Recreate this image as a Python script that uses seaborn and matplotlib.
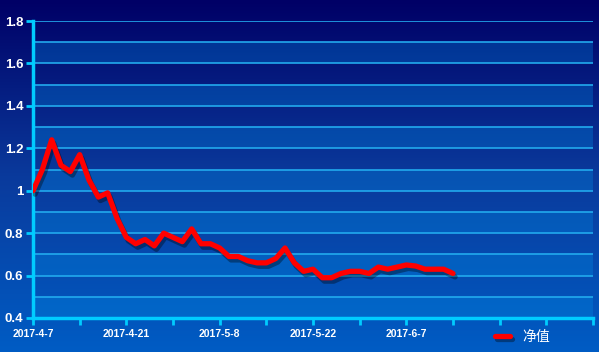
import seaborn as sns
import matplotlib.pyplot as plt
import matplotlib.patheffects as pe
from matplotlib.colors import LinearSegmentedColormap
import numpy as np
import pandas as pd

sns.set_style("ticks")
plt.rcParams['font.family'] = ['Liberation Sans', 'Noto Sans CJK SC', 'DejaVu Sans']

# trading days with a value
dates = ['2017-4-7', '2017-4-10', '2017-4-11', '2017-4-12', '2017-4-13', '2017-4-14',
         '2017-4-17', '2017-4-18', '2017-4-19', '2017-4-20', '2017-4-21',
         '2017-4-24', '2017-4-25', '2017-4-26', '2017-4-27', '2017-4-28',
         '2017-5-2', '2017-5-3', '2017-5-4', '2017-5-5', '2017-5-8',
         '2017-5-9', '2017-5-10', '2017-5-11', '2017-5-12', '2017-5-15',
         '2017-5-16', '2017-5-17', '2017-5-18', '2017-5-19', '2017-5-22',
         '2017-5-23', '2017-5-24', '2017-5-25', '2017-5-26', '2017-5-31',
         '2017-6-1', '2017-6-2', '2017-6-5', '2017-6-6', '2017-6-7',
         '2017-6-8', '2017-6-9', '2017-6-12', '2017-6-13', '2017-6-14']

nav = [1.00, 1.10, 1.24, 1.12, 1.09, 1.17, 1.05, 0.97, 0.99, 0.87,
       0.78, 0.75, 0.77, 0.74, 0.80, 0.78, 0.76, 0.82, 0.75, 0.75,
       0.73, 0.69, 0.69, 0.67, 0.66, 0.66, 0.68, 0.73, 0.66, 0.62,
       0.63, 0.59, 0.59, 0.61, 0.62, 0.62, 0.61, 0.64, 0.63, 0.64,
       0.65, 0.645, 0.63, 0.63, 0.63, 0.61]

n_slots = 60  # category axis runs on past the last date
y_ticks = [0.4, 0.6, 0.8, 1.0, 1.2, 1.4, 1.6, 1.8]
y_tick_labels = ['0.4', '0.6', '0.8', '1', '1.2', '1.4', '1.6', '1.8']

df = pd.DataFrame({'pos': np.arange(len(nav)), 'nav': nav})

fig = plt.figure(figsize=(5.99, 3.52), dpi=100)

# background gradient
bg = fig.add_axes([0, 0, 1, 1], zorder=-10)
cmap = LinearSegmentedColormap.from_list('bg', ['#000066', '#0a3a9c', '#005cc4'])
bg.imshow(np.linspace(0, 1, 256).reshape(-1, 1), aspect='auto', cmap=cmap,
          extent=[0, 1, 0, 1], origin='upper')
bg.axis('off')

ax = fig.add_axes([0.0551, 0.0966, 0.9349, 0.8437])
ax.set_facecolor('none')

# alternating bands and grid lines
for lo in np.arange(0.4, 1.8, 0.2):
    ax.axhspan(lo, lo + 0.1, color='#0090e8', alpha=0.3, lw=0, zorder=0)
for yv in np.arange(0.5, 1.85, 0.1):
    ax.axhline(yv, color='#22aaee', lw=1.2, zorder=1)

sns.lineplot(data=df, x='pos', y='nav', ax=ax, color='#ff0000', lw=3.8,
             label='净值', zorder=5, solid_joinstyle='round', solid_capstyle='round',
             path_effects=[pe.SimpleLineShadow(offset=(1.5, -2.5), shadow_color='black', alpha=0.35),
                           pe.Normal()])

ax.set_xlim(0, n_slots)
ax.set_ylim(0.4, 1.8)
tick_pos = list(range(0, n_slots + 1, 5))
ax.set_xticks(tick_pos)
ax.set_xticklabels([dates[p] if (p % 10 == 0 and p < len(dates)) else '' for p in tick_pos],
                   color='white', fontsize=7.5, fontweight='bold')
ax.set_yticks(y_ticks)
ax.set_yticklabels(y_tick_labels, color='white', fontsize=9.5, fontweight='bold')
ax.set_xlabel('')
ax.set_ylabel('')

for side in ['top', 'right']:
    ax.spines[side].set_visible(False)
for side in ['left', 'bottom']:
    ax.spines[side].set_color('#00ccff')
    ax.spines[side].set_linewidth(2.5)
ax.tick_params(axis='both', colors='#00ccff', width=2, length=5, direction='out')
ax.tick_params(axis='x', labelcolor='white', pad=3)
ax.tick_params(axis='y', labelcolor='white', pad=2)

ax.legend_.remove()
leg = fig.legend(loc='center', bbox_to_anchor=(0.872, 0.043), frameon=False,
                 handlelength=1.1, handletextpad=0.9,
                 prop={'family': ['Noto Sans CJK SC'], 'size': 10})
for t in leg.get_texts():
    t.set_color('white')

fig.savefig('out.png', dpi=100)
